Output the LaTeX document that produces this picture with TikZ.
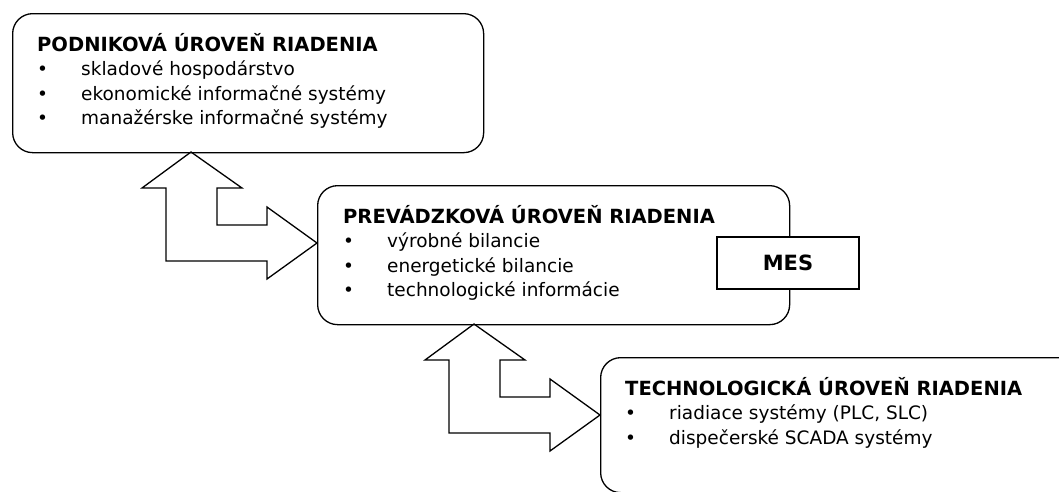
\documentclass[tikz,border=0pt]{standalone}
\usepackage{fontspec}
\setmainfont{DejaVu Sans}
\usetikzlibrary{positioning}

\tikzset{
  uroven/.style={draw, line width=1.3pt, rounded corners=20pt, anchor=north west, inner sep=0pt},
  popis/.style={anchor=north west, align=left, inner sep=0pt, font=\fontsize{18.5}{24.5}\selectfont},
  % lomena dvojita sipka, (0,0) je horny hrot
  sipka/.pic={
    \draw[line width=1.3pt, line join=miter]
      (0,0) -- (51,36) -- (26,36) -- (26,73) -- (76,73) -- (76,55) -- (126,91)
      -- (76,127) -- (76,109) -- (-25,109) -- (-25,36) -- (-49,36) -- cycle;
  },
}
\newcommand{\bod}{\makebox[44pt][l]{\textbullet}}
\newcommand{\nadpis}[1]{{\fontsize{19.5}{24.5}\selectfont\bfseries #1}}

\begin{document}
\begin{tikzpicture}[x=1pt,y=-1pt]
  \useasboundingbox (0,0) rectangle (1059,491);
  % urovne riadenia
  \node[uroven, minimum width=471pt, minimum height=139pt] (podnik) at (12,13) {};
  \node[uroven, minimum width=472pt, minimum height=139pt] (prevadzka) at (317,185) {};
  \node[uroven, minimum width=480pt, minimum height=135pt] (technika) at (600,357) {};

  \node[popis] (podniktext) at ([shift={(25,20)}]podnik.north west)
    {\nadpis{PODNIKOVÁ ÚROVEŇ RIADENIA}\\
     \bod skladové hospodárstvo\\
     \bod ekonomické informačné systémy\\
     \bod manažérske informačné systémy};
  \node[popis] (prevadzkatext) at ([shift={(26,20)}]prevadzka.north west)
    {\nadpis{PREVÁDZKOVÁ ÚROVEŇ RIADENIA}\\
     \bod výrobné bilancie\\
     \bod energetické bilancie\\
     \bod technologické informácie};
  \node[popis] (technikatext) at ([shift={(25,20)}]technika.north west)
    {\nadpis{TECHNOLOGICKÁ ÚROVEŇ RIADENIA}\\
     \bod riadiace systémy (PLC, SLC)\\
     \bod dispečerské SCADA systémy};

  \node[draw, fill=white, line width=1.3pt, minimum width=142pt, minimum height=52pt,
    font=\bfseries\fontsize{21}{21}\selectfont] (mes) at (788,263) {MES};

  % sipky medzi urovnami
  \pic at (191,152) {sipka};
  \pic at (474,324) {sipka};
\end{tikzpicture}
\end{document}
